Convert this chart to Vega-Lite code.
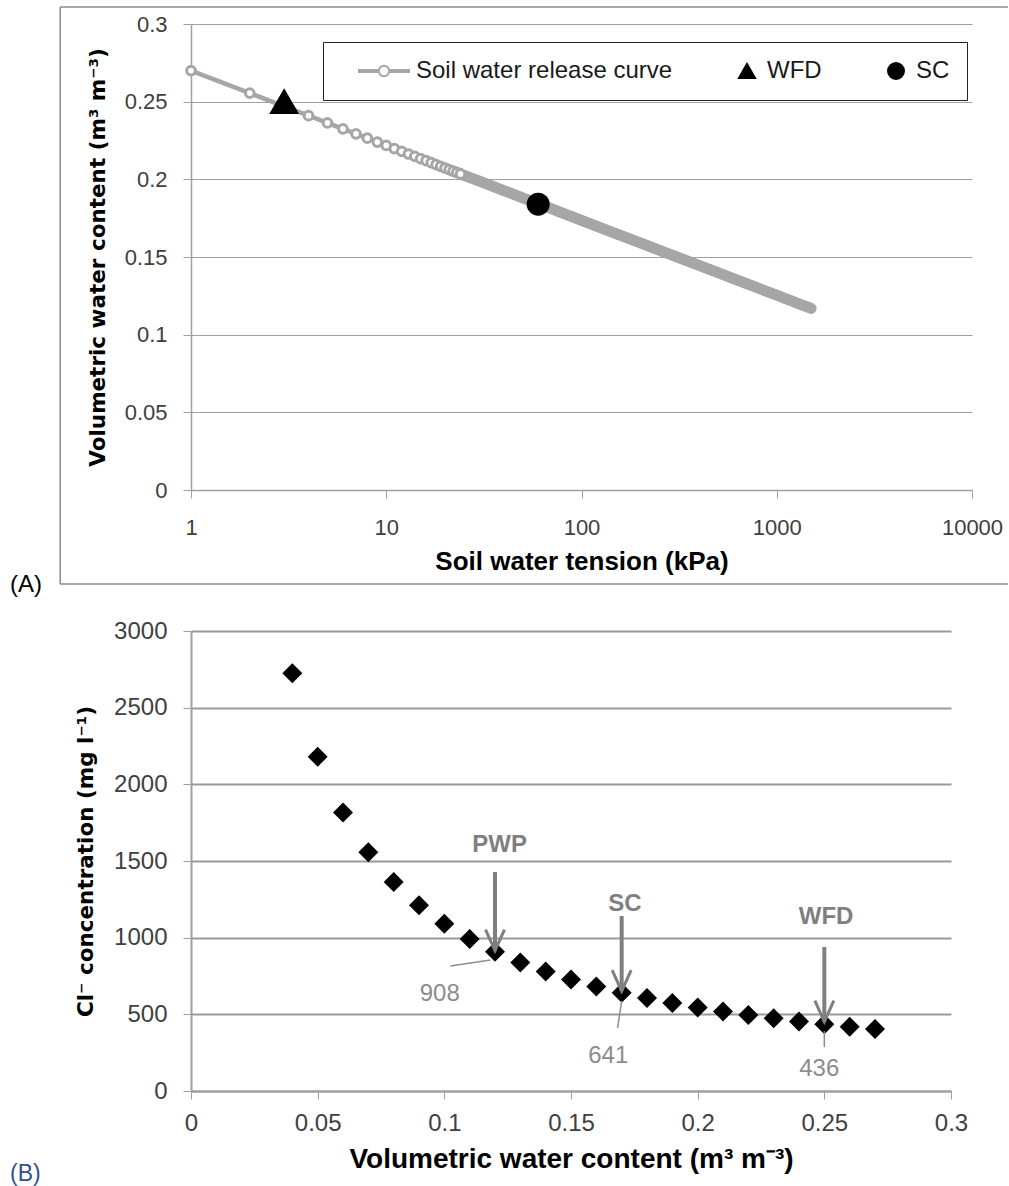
{
  "$schema": "https://vega.github.io/schema/vega-lite/v6.json",
  "background": "white",
  "padding": {"left": 10, "top": 6, "right": 0, "bottom": 0},
  "bounds": "flush",
  "spacing": 141,
  "config": {"view": {"stroke": null}, "font": "Liberation Sans"},
  "datasets": {
    "curve": [
      {"h": 1, "t": 0.27}, {"h": 2, "t": 0.2555}, {"h": 3, "t": 0.247}, {"h": 4, "t": 0.241},
      {"h": 5, "t": 0.2363}, {"h": 6, "t": 0.2325}, {"h": 7, "t": 0.2293}, {"h": 8, "t": 0.2265},
      {"h": 9, "t": 0.224}, {"h": 10, "t": 0.2218}, {"h": 11, "t": 0.2198}, {"h": 12, "t": 0.218},
      {"h": 13, "t": 0.2163}, {"h": 14, "t": 0.2148}, {"h": 15, "t": 0.2133}, {"h": 16, "t": 0.212},
      {"h": 17, "t": 0.2107}, {"h": 18, "t": 0.2095}, {"h": 19, "t": 0.2084}, {"h": 20, "t": 0.2073},
      {"h": 21, "t": 0.2063}, {"h": 22, "t": 0.2053}, {"h": 23, "t": 0.2044}, {"h": 24, "t": 0.2035},
      {"h": 25, "t": 0.2026}, {"h": 30, "t": 0.1988}, {"h": 40, "t": 0.1928}, {"h": 50, "t": 0.1881},
      {"h": 60, "t": 0.1843}, {"h": 70, "t": 0.1811}, {"h": 80, "t": 0.1783}, {"h": 90, "t": 0.1758},
      {"h": 100, "t": 0.1736}, {"h": 150, "t": 0.1651}, {"h": 200, "t": 0.1591}, {"h": 300, "t": 0.1506},
      {"h": 400, "t": 0.1446}, {"h": 500, "t": 0.1399}, {"h": 600, "t": 0.1361}, {"h": 700, "t": 0.1329},
      {"h": 800, "t": 0.1301}, {"h": 900, "t": 0.1276}, {"h": 1000, "t": 0.1254}, {"h": 1100, "t": 0.1234},
      {"h": 1200, "t": 0.1216}, {"h": 1300, "t": 0.1199}, {"h": 1400, "t": 0.1184}, {"h": 1500, "t": 0.1169}
    ],
    "marks": [
      {"series": "WFD", "h": 3, "t": 0.25},
      {"series": "SC", "h": 60, "t": 0.184}
    ],
    "cl": [
      {"w": 0.04, "c": 2725}, {"w": 0.05, "c": 2180}, {"w": 0.06, "c": 1817}, {"w": 0.07, "c": 1557},
      {"w": 0.08, "c": 1363}, {"w": 0.09, "c": 1211}, {"w": 0.1, "c": 1090}, {"w": 0.11, "c": 991},
      {"w": 0.12, "c": 908}, {"w": 0.13, "c": 838}, {"w": 0.14, "c": 779}, {"w": 0.15, "c": 727},
      {"w": 0.16, "c": 681}, {"w": 0.17, "c": 641}, {"w": 0.18, "c": 606}, {"w": 0.19, "c": 574},
      {"w": 0.2, "c": 545}, {"w": 0.21, "c": 519}, {"w": 0.22, "c": 495}, {"w": 0.23, "c": 474},
      {"w": 0.24, "c": 454}, {"w": 0.25, "c": 436}, {"w": 0.26, "c": 419}, {"w": 0.27, "c": 404}
    ],
    "arrows": [
      {"name": "PWP", "x": 0.12, "top": 1428, "tip": 915, "lx": 0.1218, "ly": 1605},
      {"name": "SC", "x": 0.17, "top": 1141, "tip": 652, "lx": 0.1713, "ly": 1218},
      {"name": "WFD", "x": 0.25, "top": 939, "tip": 452, "lx": 0.2507, "ly": 1138}
    ],
    "values": [
      {"v": 908, "tx": 0.0982, "ty": 631, "x1": 0.1024, "y1": 815, "x2": 0.1182, "y2": 854},
      {"v": 641, "tx": 0.1647, "ty": 230, "x1": 0.1684, "y1": 411, "x2": 0.17, "y2": 587},
      {"v": 436, "tx": 0.248, "ty": 144, "x1": 0.25, "y1": 287, "x2": 0.25, "y2": 391}
    ]
  },
  "vconcat": [
    {
      "width": 781,
      "height": 466,
      "title": {"text": "(A)", "orient": "bottom", "anchor": "start", "frame": "group", "dx": -181, "offset": -12, "font": "Liberation Sans", "fontSize": 24, "fontWeight": "normal", "color": "black"},
      "layer": [
        {
          "data": {"name": "curve"},
          "mark": {"type": "line", "color": "#a6a6a6", "strokeWidth": 4.5},
          "encoding": {
            "x": {"field": "h", "type": "quantitative",
              "scale": {"type": "log", "domain": [1, 10000]},
              "axis": {"values": [1, 10, 100, 1000, 10000], "format": "d", "grid": false,
                "title": "Soil water tension (kPa)", "titleFont": "Liberation Sans", "titleFontSize": 26, "titleFontWeight": "bold", "titleColor": "black", "titlePadding": 10,
                "labelFont": "Liberation Sans", "labelFontSize": 22, "labelColor": "#404040", "labelPadding": 19, "labelFlush": false, "labelOverlap": false,
                "tickSize": 8, "tickColor": "#a0a0a0", "domainColor": "#a0a0a0", "domainWidth": 1.5}},
            "y": {"field": "t", "type": "quantitative",
              "scale": {"domain": [0, 0.3], "nice": false},
              "axis": {"values": [0, 0.05, 0.1, 0.15, 0.2, 0.25, 0.3], "format": ".2~f", "grid": true, "gridColor": "#a0a0a0", "gridWidth": 1,
                "title": "Volumetric water content (m³ m⁻³)", "titleFont": "DejaVu Sans", "titleFontSize": 21.5, "titleFontWeight": "bold", "titleColor": "black", "titlePadding": 15,
                "labelFont": "Liberation Sans", "labelFontSize": 22, "labelColor": "#404040", "labelPadding": 16,
                "tickSize": 8, "tickColor": "#a0a0a0", "domainColor": "#a0a0a0", "domainWidth": 1.5}}
          }
        },
        {
          "data": {"name": "curve"},
          "transform": [{"filter": "datum.h >= 22"}],
          "mark": {"type": "line", "color": "#a6a6a6", "strokeWidth": 11, "strokeCap": "round"},
          "encoding": {"x": {"field": "h", "type": "quantitative"}, "y": {"field": "t", "type": "quantitative"}}
        },
        {
          "data": {"name": "curve"},
          "transform": [{"filter": "datum.h <= 24"}],
          "mark": {"type": "point", "shape": "circle", "filled": true, "fill": "white", "stroke": "#a6a6a6", "strokeWidth": 3, "size": 76, "opacity": 1},
          "encoding": {"x": {"field": "h", "type": "quantitative"}, "y": {"field": "t", "type": "quantitative"}}
        },
        {
          "data": {"name": "marks"},
          "transform": [{"filter": "datum.series == 'WFD'"}],
          "mark": {"type": "point", "filled": true, "opacity": 1, "size": 700},
          "encoding": {
            "x": {"field": "h", "type": "quantitative"},
            "y": {"field": "t", "type": "quantitative"},
            "shape": {"field": "series", "type": "nominal",
              "scale": {"domain": ["Soil water release curve", "WFD", "SC"], "range": ["M-4.75,-0.12L-2.15,-0.12M-4.75,0.12L-2.15,0.12M-0.85,-0.12L1.75,-0.12M-0.85,0.12L1.75,0.12M-0.85,0A0.65,0.65 0 1 1 -2.15,0A0.65,0.65 0 1 1 -0.85,0Z", "triangle-up", "circle"]},
              "legend": {"orient": "none", "legendX": 132, "legendY": 18, "direction": "horizontal", "title": " ", "titleOrient": "left", "titleFontSize": 24, "titlePadding": 12, "symbolSize": 256, "symbolStrokeWidth": 2, "symbolOffset": 32, "labelOffset": 8, "labelFont": "Liberation Sans", "labelFontSize": 24, "labelColor": "#1a1a1a", "labelLimit": 400, "columnPadding": 30, "padding": 17, "strokeColor": "#222", "fillColor": "white"}},
            "fill": {"field": "series", "type": "nominal",
              "scale": {"domain": ["Soil water release curve", "WFD", "SC"], "range": ["white", "black", "black"]},
              "legend": {"orient": "none", "legendX": 132, "legendY": 18, "direction": "horizontal", "title": " "}},
            "stroke": {"field": "series", "type": "nominal",
              "scale": {"domain": ["Soil water release curve", "WFD", "SC"], "range": ["#a6a6a6", "black", "black"]},
              "legend": {"orient": "none", "legendX": 132, "legendY": 18, "direction": "horizontal", "title": " "}}
          }
        },
        {
          "data": {"name": "marks"},
          "transform": [{"filter": "datum.series == 'SC'"}],
          "mark": {"type": "point", "filled": true, "opacity": 1, "size": 441},
          "encoding": {
            "x": {"field": "h", "type": "quantitative"},
            "y": {"field": "t", "type": "quantitative"},
            "shape": {"field": "series", "type": "nominal", "legend": {"orient": "none", "legendX": 132, "legendY": 18, "direction": "horizontal", "title": " "}},
            "fill": {"field": "series", "type": "nominal", "legend": {"orient": "none", "legendX": 132, "legendY": 18, "direction": "horizontal", "title": " "}},
            "stroke": {"field": "series", "type": "nominal", "legend": {"orient": "none", "legendX": 132, "legendY": 18, "direction": "horizontal", "title": " "}}
          }
        },
        {
          "data": {"values": [{}]},
          "mark": {"type": "rule", "color": "#8a8a8a", "strokeWidth": 1.5, "clip": false},
          "encoding": {"x": {"datum": 0.2138, "type": "quantitative"}, "x2": {"datum": 15280}, "y": {"datum": 0.311, "type": "quantitative"}}
        },
        {
          "data": {"values": [{}]},
          "mark": {"type": "rule", "color": "#8a8a8a", "strokeWidth": 1.5, "clip": false},
          "encoding": {"x": {"datum": 0.2138, "type": "quantitative"}, "x2": {"datum": 15280}, "y": {"datum": -0.0605, "type": "quantitative"}}
        },
        {
          "data": {"values": [{}]},
          "mark": {"type": "rule", "color": "#8a8a8a", "strokeWidth": 1.5, "clip": false},
          "encoding": {"x": {"datum": 0.2138, "type": "quantitative"}, "y": {"datum": -0.0605, "type": "quantitative"}, "y2": {"datum": 0.311}}
        }
      ]
    },
    {
      "width": 760,
      "height": 460,
      "title": {"text": "(B)", "orient": "bottom", "anchor": "start", "frame": "group", "dx": -181, "offset": -10, "font": "Liberation Sans", "fontSize": 23, "fontWeight": "normal", "color": "#2f4f8f"},
      "layer": [
        {
          "data": {"name": "cl"},
          "mark": {"type": "point", "shape": "diamond", "filled": true, "color": "black", "size": 400, "opacity": 1},
          "encoding": {
            "x": {"field": "w", "type": "quantitative",
              "scale": {"domain": [0, 0.3], "nice": false},
              "axis": {"values": [0, 0.05, 0.1, 0.15, 0.2, 0.25, 0.3], "format": ".2~f", "grid": false,
                "title": "Volumetric water content (m³ m⁻³)", "titleFont": "Liberation Sans", "titleFontSize": 28, "titleFontWeight": "bold", "titleColor": "black", "titlePadding": 10,
                "labelFont": "Liberation Sans", "labelFontSize": 24, "labelColor": "#404040", "labelPadding": 12, "labelFlush": false, "labelOverlap": false,
                "tickSize": 8, "tickColor": "#a0a0a0", "domainColor": "#a0a0a0", "domainWidth": 2}},
            "y": {"field": "c", "type": "quantitative",
              "scale": {"domain": [0, 3000], "nice": false},
              "axis": {"values": [0, 500, 1000, 1500, 2000, 2500, 3000], "format": "d", "grid": true, "gridColor": "#9a9a9a", "gridWidth": 2,
                "title": "Cl⁻ concentration (mg l⁻¹)", "titleFont": "DejaVu Sans", "titleFontSize": 21.5, "titleFontWeight": "bold", "titleColor": "black", "titlePadding": 16,
                "labelFont": "Liberation Sans", "labelFontSize": 24, "labelColor": "#404040", "labelPadding": 16,
                "tickSize": 8, "tickColor": "#a0a0a0", "domainColor": "#a0a0a0", "domainWidth": 2}}
          }
        },
        {
          "data": {"name": "arrows"},
          "mark": {"type": "rule", "color": "#7f7f7f", "strokeWidth": 4},
          "encoding": {"x": {"field": "x", "type": "quantitative"}, "y": {"field": "top", "type": "quantitative"}, "y2": {"field": "tip"}}
        },
        {
          "data": {"name": "arrows"},
          "mark": {"type": "point", "shape": "M-0.95,-2.1L0,0L0.95,-2.1", "filled": false, "stroke": "#7f7f7f", "strokeWidth": 3, "size": 400, "opacity": 1},
          "encoding": {"x": {"field": "x", "type": "quantitative"}, "y": {"field": "tip", "type": "quantitative"}}
        },
        {
          "data": {"name": "arrows"},
          "mark": {"type": "text", "font": "Liberation Sans", "fontSize": 24, "fontWeight": "bold", "color": "#7f7f7f", "align": "center", "baseline": "middle"},
          "encoding": {"x": {"field": "lx", "type": "quantitative"}, "y": {"field": "ly", "type": "quantitative"}, "text": {"field": "name"}}
        },
        {
          "data": {"name": "values"},
          "mark": {"type": "rule", "color": "#8c8c8c", "strokeWidth": 1.5},
          "encoding": {"x": {"field": "x1", "type": "quantitative"}, "y": {"field": "y1", "type": "quantitative"}, "x2": {"field": "x2"}, "y2": {"field": "y2"}}
        },
        {
          "data": {"name": "values"},
          "mark": {"type": "text", "font": "Liberation Sans", "fontSize": 24, "color": "#8c8c8c", "align": "center", "baseline": "middle"},
          "encoding": {"x": {"field": "tx", "type": "quantitative"}, "y": {"field": "ty", "type": "quantitative"}, "text": {"field": "v", "type": "quantitative"}}
        }
      ]
    }
  ]
}
